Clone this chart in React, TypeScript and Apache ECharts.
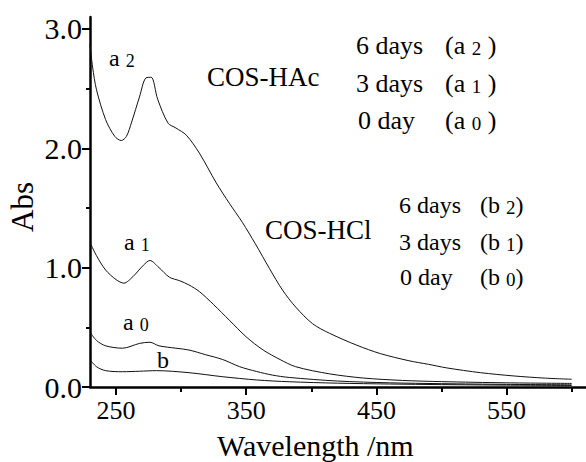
import React, { useEffect, useRef } from "react";
import * as echarts from "echarts";

const a2Data: number[][] = [
  [230, 2.87], [232, 2.68], [235, 2.49], [242, 2.24], [249, 2.1], [254, 2.065], [258, 2.1],
  [262, 2.22], [268, 2.43], [273, 2.59], [277, 2.595], [282, 2.41], [290, 2.21], [296, 2.17],
  [304, 2.11], [314, 1.96], [327, 1.71], [337, 1.54], [347, 1.38], [357, 1.2], [368, 0.99],
  [378, 0.81], [388, 0.67], [401, 0.53], [414, 0.45], [435, 0.35], [453, 0.28], [475, 0.22],
  [490, 0.19], [504, 0.16], [530, 0.12], [555, 0.093], [580, 0.074], [600, 0.065],
];
const a1Data: number[][] = [
  [230, 1.21], [235, 1.1], [242, 0.98], [250, 0.9], [256, 0.87], [263, 0.925], [271, 1.02],
  [276, 1.06], [283, 1.0], [291, 0.92], [299, 0.89], [306, 0.855], [314, 0.8], [325, 0.69],
  [337, 0.56], [350, 0.42], [363, 0.31], [376, 0.23], [388, 0.17], [414, 0.11], [440, 0.075],
  [470, 0.055], [500, 0.045], [550, 0.035], [600, 0.03],
];
const a0Data: number[][] = [
  [230, 0.46], [235, 0.39], [242, 0.345], [255, 0.325], [268, 0.365], [276, 0.375], [283, 0.345],
  [296, 0.325], [306, 0.31], [319, 0.27], [332, 0.23], [345, 0.17], [358, 0.13], [370, 0.1],
  [383, 0.08], [420, 0.05], [460, 0.035], [500, 0.028], [550, 0.022], [600, 0.018],
];
const bData: number[][] = [
  [230, 0.23], [235, 0.17], [242, 0.137], [255, 0.128], [268, 0.132], [281, 0.137], [306, 0.12],
  [332, 0.086], [358, 0.059], [383, 0.044], [420, 0.032], [460, 0.025], [500, 0.02], [550, 0.016],
  [600, 0.013],
];

const xMajorTicks = [250, 350, 450, 550];
const xMinorTicks = [300, 400, 500, 600];
const yMajorTicks = [0, 1, 2, 3];
const yMinorTicks = [0.5, 1.5, 2.5];

const FONT = "Liberation Serif";
const INK = "#000000";

function sub(x: number, y: number, main: string, s: string, tail: string, size: number, subSize: number) {
  return {
    type: "text",
    x,
    y,
    style: {
      text: `{m|${main}}{s|${s}}{m|${tail}}`,
      textVerticalAlign: "middle",
      textAlign: "left",
      fill: INK,
      rich: {
        m: { fontFamily: FONT, fontSize: size, fill: INK, lineHeight: size, verticalAlign: "bottom" },
        s: { fontFamily: FONT, fontSize: subSize, fill: INK, lineHeight: subSize, verticalAlign: "bottom" },
      },
    },
  };
}

function txt(x: number, y: number, text: string, size: number, align: string = "left", extra: any = {}) {
  return {
    type: "text",
    x,
    y,
    ...extra,
    style: {
      text,
      font: `${size}px ${FONT}`,
      fill: INK,
      textAlign: align,
      textVerticalAlign: "middle",
    },
  };
}

export default function App() {
  const ref = useRef<HTMLDivElement>(null);
  useEffect(() => {
    document.body.style.margin = "0";
    const chart = echarts.init(ref.current!, null, { renderer: "svg" });
    const lineStyle = { color: "#111111", width: 1 };
    const mkSeries = (name: string, data: number[][]) => ({
      name,
      type: "line",
      data,
      showSymbol: false,
      smooth: 0.3,
      lineStyle,
      xAxisIndex: 0,
      yAxisIndex: 0,
    });
    const axisLine = { show: true, lineStyle: { color: INK, width: 2.5 } };
    chart.setOption({
      animation: false,
      backgroundColor: "#ffffff",
      textStyle: { fontFamily: FONT },
      grid: { left: 90, right: 0, top: 17, bottom: 75 },
      xAxis: [
        {
          type: "value",
          min: 230,
          max: 611,
          position: "bottom",
          axisLine,
          splitLine: { show: false },
          axisTick: { show: true, length: 8, customValues: xMajorTicks, lineStyle: { color: INK, width: 2 } },
          axisLabel: {
            show: true,
            customValues: xMajorTicks,
            margin: 10,
            fontFamily: FONT,
            fontSize: 26,
            color: INK,
          },
        },
        {
          type: "value",
          min: 230,
          max: 611,
          position: "bottom",
          axisLine: { show: false },
          splitLine: { show: false },
          axisTick: { show: true, length: 5, customValues: xMinorTicks, lineStyle: { color: INK, width: 2 } },
          axisLabel: { show: false },
        },
      ],
      yAxis: [
        {
          type: "value",
          min: 0,
          max: 3.1,
          axisLine,
          splitLine: { show: false },
          axisTick: { show: true, length: 8, customValues: yMajorTicks, lineStyle: { color: INK, width: 2 } },
          axisLabel: {
            show: true,
            customValues: yMajorTicks,
            margin: 8,
            fontFamily: FONT,
            fontSize: 30,
            color: INK,
            formatter: (v: number) => v.toFixed(1),
          },
        },
        {
          type: "value",
          min: 0,
          max: 3.1,
          position: "left",
          axisLine: { show: false },
          splitLine: { show: false },
          axisTick: { show: true, length: 4, customValues: yMinorTicks, lineStyle: { color: INK, width: 2 } },
          axisLabel: { show: false },
        },
      ],
      series: [
        mkSeries("a2", a2Data),
        mkSeries("a1", a1Data),
        mkSeries("a0", a0Data),
        mkSeries("b", bData),
      ],
      graphic: [
        txt(217, 445, "Wavelength /nm", 30),
        txt(22, 207, "Abs", 31, "center", { rotation: Math.PI / 2 }),
        sub(109, 58, "a ", "2", "", 24, 18),
        sub(124, 242, "a ", "1", "", 24, 18),
        sub(123, 322, "a ", "0", "", 24, 18),
        txt(157, 360, "b", 24),
        txt(207, 77, "COS-HAc", 27),
        txt(356, 45, "6 days", 26),
        sub(445, 45, "(a ", "2", " )", 26, 19),
        txt(356, 83, "3 days", 26),
        sub(445, 83, "(a ", "1", " )", 26, 19),
        txt(358, 120, "0 day", 26),
        sub(445, 120, "(a ", "0", " )", 26, 19),
        txt(265, 230, "COS-HCl", 27),
        txt(399, 205, "6 days", 24),
        sub(480, 205, "(b ", "2", ")", 24, 19),
        txt(399, 242, "3 days", 24),
        sub(480, 242, "(b ", "1", ")", 24, 19),
        txt(400, 277, "0 day", 24),
        sub(480, 277, "(b ", "0", ")", 24, 19),
      ],
    });
    return () => chart.dispose();
  }, []);
  return <div ref={ref} style={{ width: 586, height: 462 }} />;
}
